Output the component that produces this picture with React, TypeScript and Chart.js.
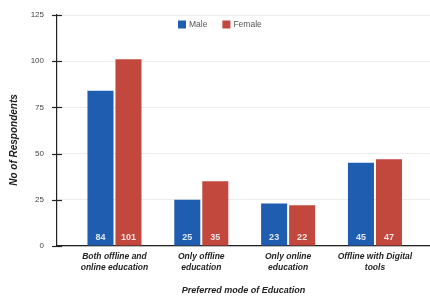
import React, { useEffect, useRef } from "react";
import { Chart, registerables } from "chart.js";
Chart.register(...registerables);

const categories: string[][] = [
  ["Both offline and", "online education"],
  ["Only offline", "education"],
  ["Only online", "education"],
  ["Offline with Digital", "tools"],
];
const maleValues = [84, 25, 23, 45];
const femaleValues = [101, 35, 22, 47];
const yTicks = [0, 25, 50, 75, 100, 125];
const seriesNames = ["Male", "Female"];
const colors = ["#1f5db0", "#c2473c"];

const FONT = "'Liberation Sans', Arial, sans-serif";

const valueLabels = {
  id: "valueLabels",
  afterDatasetsDraw(chart: any) {
    const ctx = chart.ctx;
    ctx.save();
    ctx.font = `bold 9px ${FONT}`;
    ctx.fillStyle = "rgba(255,255,255,0.85)";
    ctx.textAlign = "center";
    ctx.textBaseline = "middle";
    chart.data.datasets.forEach((ds: any, i: number) => {
      const meta = chart.getDatasetMeta(i);
      meta.data.forEach((bar: any, j: number) => {
        ctx.fillText(String(ds.data[j]), bar.x, bar.base - 8);
      });
    });
    ctx.restore();
  },
};

const decorations = {
  id: "decorations",
  afterDraw(chart: any) {
    const ctx = chart.ctx;
    const ys = chart.scales.y;
    ctx.save();
    // crossing tick marks on the y axis
    ctx.strokeStyle = "#222";
    ctx.lineWidth = 1.2;
    ys.ticks.forEach((t: any) => {
      const py = Math.round(ys.getPixelForValue(t.value)) + 0.5;
      ctx.beginPath();
      ctx.moveTo(ys.right - 5, py);
      ctx.lineTo(ys.right + 5, py);
      ctx.stroke();
    });
    // y axis title
    ctx.font = `bold italic 10px ${FONT}`;
    ctx.fillStyle = "#222";
    ctx.textAlign = "center";
    ctx.textBaseline = "middle";
    ctx.translate(14, 140);
    ctx.rotate(-Math.PI / 2);
    ctx.fillText("No of Respondents", 0, 0);
    ctx.restore();

    // legend
    ctx.save();
    ctx.font = `8.5px ${FONT}`;
    ctx.textBaseline = "middle";
    const y = 24.5;
    let x = 178;
    seriesNames.forEach((name, i) => {
      ctx.fillStyle = colors[i];
      ctx.fillRect(x, y - 4, 8, 8);
      ctx.fillStyle = "#555";
      ctx.textAlign = "left";
      ctx.fillText(name, x + 11, y);
      x += 11 + ctx.measureText(name).width + 15;
    });
    ctx.restore();
  },
};

export default function App() {
  const ref = useRef<HTMLCanvasElement>(null);
  useEffect(() => {
    document.body.style.margin = "0";
    const chart = new Chart(ref.current!, {
      type: "bar",
      data: {
        labels: categories,
        datasets: [
          { label: seriesNames[0], data: maleValues, backgroundColor: colors[0], categoryPercentage: 0.645, barPercentage: 0.93 },
          { label: seriesNames[1], data: femaleValues, backgroundColor: colors[1], categoryPercentage: 0.645, barPercentage: 0.93 },
        ],
      },
      options: {
        animation: false,
        responsive: false,
        layout: { padding: { top: 15, right: 0, left: 0, bottom: 0 } },
        plugins: { legend: { display: false }, tooltip: { enabled: false } },
        scales: {
          x: {
            grid: { display: false, drawTicks: false, tickLength: 0 },
            border: { display: true, color: "#222", width: 1.2 },
            ticks: {
              color: "#222",
              font: { family: FONT, size: 8.5, weight: "bold", style: "italic" },
              padding: 6,
              maxRotation: 0,
            },
            title: {
              display: true,
              text: "Preferred mode of Education",
              color: "#222",
              font: { family: FONT, size: 9, weight: "bold", style: "italic" },
              padding: { top: 12, bottom: 4 },
            },
            afterBuildTicks: (s: any) => {
              // leave extra space on the left, as the original does
              s._startValue = -0.662;
              s._valueRange = 4.296;
            },
            afterFit: (s: any) => { s.height = 54; },
          },
          y: {
            min: 0,
            max: 125,
            afterBuildTicks: (s: any) => { s.ticks = yTicks.map((v) => ({ value: v })); },
            grid: {
              color: "rgba(0,0,0,0.07)",
              drawTicks: true,
              tickLength: 5,
              tickColor: "rgba(0,0,0,0)",
            },
            border: { display: true, color: "#222", width: 1.2 },
            ticks: {
              color: "#444",
              font: { family: FONT, size: 8 },
              padding: 8,
            },
            afterFit: (s: any) => { s.width = 57; },
          },
        },
      },
      plugins: [valueLabels, decorations],
    });
    return () => chart.destroy();
  }, []);
  return (
    <div style={{ width: 430, height: 300 }}>
      <canvas ref={ref} width={430} height={300} style={{ width: 430, height: 300 }} />
    </div>
  );
}
